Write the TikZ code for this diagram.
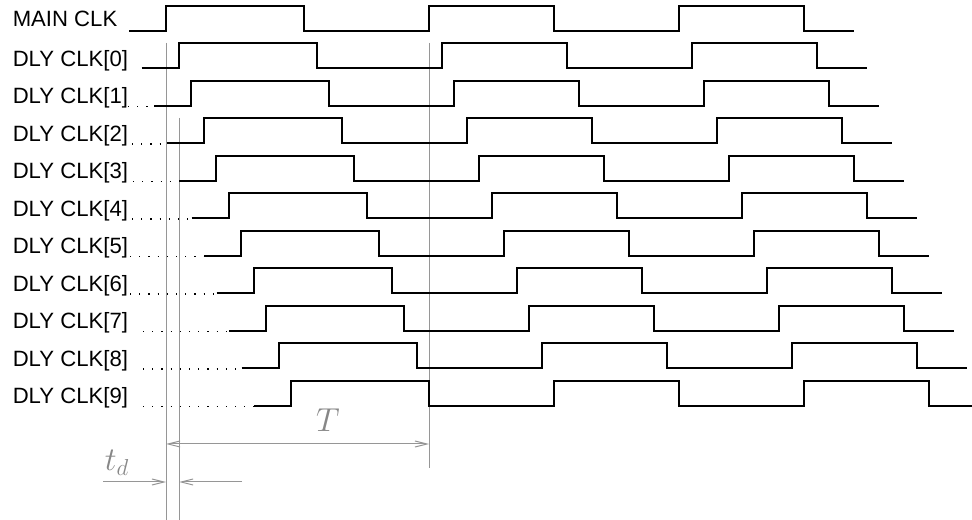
\documentclass[tikz,border=0pt]{standalone}
\usepackage{fontspec}
\newfontfamily\labelfont{Liberation Sans}
\usetikzlibrary{arrows.meta}
\definecolor{dimgray}{RGB}{150,150,150}
\definecolor{dimtext}{RGB}{135,135,135}
\begin{document}
\begin{tikzpicture}[x=0.75pt,y=-0.75pt,
  sig/.style={line width=1.5pt, line join=miter, line cap=butt, black},
  dotline/.style={line width=1.1pt, dash pattern=on 0.9pt off 6pt, black},
  lbl/.style={anchor=base west, inner sep=0pt, font=\labelfont\fontsize{16.6}{16.6}\selectfont},
  guide/.style={line width=0.75pt, dimgray},
  dimarrow/.style={guide, -{Straight Barb[length=9pt,width=4.5pt]}},
  mathlbl/.style={text=dimtext, inner sep=0pt, font=\fontsize{26}{26}\selectfont}]
\useasboundingbox (0,0) rectangle (972,520);

% guide lines (drawn first, under the signals)
\coordinate (g0top) at (166,43);
\coordinate (g0bot) at (166,520);
\coordinate (g1top) at (179,118);
\coordinate (g1bot) at (179,520);
\coordinate (gTtop) at (429,43);
\coordinate (gTbot) at (429,468);
\draw[guide] (g0top) -- (g0bot);
\draw[guide] (g1top) -- (g1bot);
\draw[guide] (gTtop) -- (gTbot);

% period arrow T
\coordinate (Tl) at (166,444);
\coordinate (Tr) at (429,444);
\draw[dimarrow, {Straight Barb[length=9pt,width=4.5pt]}-{Straight Barb[length=9pt,width=4.5pt]}] (Tl) -- (Tr);
\node[mathlbl] (Tlabel) at (328,420) {$T$};

% delay arrows t_d
\coordinate (tdla) at (103,482);
\coordinate (tdlb) at (166,482);
\coordinate (tdra) at (242,482);
\coordinate (tdrb) at (179,482);
\draw[dimarrow] (tdla) -- (tdlb);
\draw[dimarrow] (tdra) -- (tdrb);
\node[mathlbl] (tdlabel) at (117,463) {$t_d$};

% signals: row 0 = MAIN CLK, rows 1..10 = DLY CLK[0..9]
\foreach \k in {0,...,10} {
  \begin{scope}[shift={(12.5*\k,37.5*\k)}]
    \draw[sig] (129,31) -- (166,31) -- (166,6) -- (304,6) -- (304,31)
      -- (429,31) -- (429,6) -- (554,6) -- (554,31)
      -- (679,31) -- (679,6) -- (804,6) -- (804,31) -- (854,31);
  \end{scope}
}

% labels
\node[lbl] (lmain) at (12.5,27) {MAIN CLK};
\foreach \i in {0,...,9} {
  \pgfmathsetmacro{\yy}{66.5+37.5*\i}
  \node[lbl] (l\i) at (12.5,\yy) {DLY CLK[\i]};
}

% dotted lead-ins
\foreach \i/\xs in {1/128,2/132,3/133,4/132,5/130,6/130,7/143,8/143,9/143} {
  \pgfmathsetmacro{\yy}{69+37.5*\i}
  \pgfmathsetmacro{\xe}{142+12.5*\i}
  \coordinate (ds\i) at (\xs,\yy);
  \coordinate (de\i) at (\xe,\yy);
  \draw[dotline] (ds\i) -- (de\i);
}
\end{tikzpicture}
\end{document}
